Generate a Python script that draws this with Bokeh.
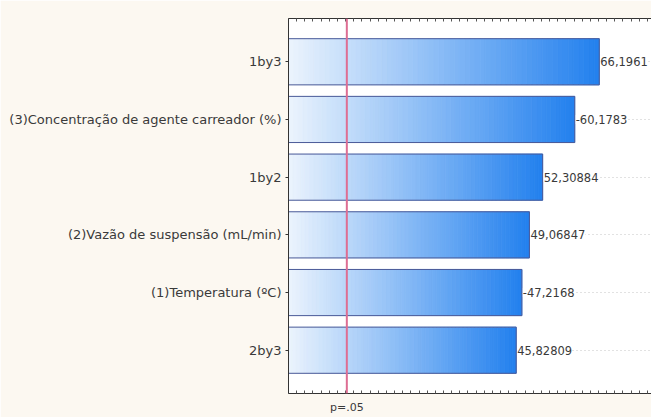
from bokeh.plotting import figure
from bokeh.models import (FixedTicker, LinearAxis, Span, ColumnDataSource, LabelSet, Range1d)
from bokeh.core.properties import value
from bokeh.embed import file_html
from bokeh.resources import INLINE

# Pareto chart of standardized effects
factors = ["1by3", "(3)Concentração de agente carreador (%)", "1by2",
           "(2)Vazão de suspensão (mL/min)", "(1)Temperatura (ºC)", "2by3"]
effects = [66.1961, -60.1783, 52.30884, 49.06847, -47.2168, 45.82809]
effect_labels = ["66,1961", "-60,1783", "52,30884", "49,06847", "-47,2168", "45,82809"]
p_crit = 4.3
p_label = "p=.05"

X0, X1 = -10, 79
n = len(factors)
ypos = list(range(n, 0, -1))

p = figure(width=651, height=417, output_backend="svg", toolbar_location=None,
           x_range=Range1d(X0, X1), y_range=Range1d(0.25, n + 0.75),
           min_border_left=288, min_border_right=0, min_border_top=18,
           min_border_bottom=24)
p.border_fill_color = "#fcf8f1"
p.background_fill_color = "white"
p.outline_line_color = None

TXT = "#3a3a3a"
FONT = "DejaVu Sans"

# gradient-filled bars: each bar split into thin slices blending light to saturated blue
c0 = (236, 244, 253)
c1 = (34, 128, 238)
nseg = 60
left, right, bottom, top, colors = [], [], [], [], []
for yv, e in zip(ypos, effects):
    length = abs(e) - X0
    for k in range(nseg):
        t = (k + 0.5) / nseg
        left.append(X0 + length * k / nseg)
        right.append(X0 + length * (k + 1) / nseg)
        bottom.append(yv - 0.4)
        top.append(yv + 0.4)
        col = tuple(int(round(a + (b - a) * t)) for a, b in zip(c0, c1))
        colors.append("#%02x%02x%02x" % col)
p.quad(left=left, right=right, bottom=bottom, top=top, fill_color=colors,
       line_color=colors, line_width=0.8)

# bar outlines
p.hbar(y=ypos, left=X0, right=[abs(e) for e in effects], height=0.8,
       fill_color=None, line_color="#4b5a98", line_width=1)

# critical value line
p.add_layout(Span(location=p_crit, dimension="height", line_color="#de6e93", line_width=2))

# value labels
src = ColumnDataSource(dict(x=[abs(e) for e in effects], y=ypos, t=effect_labels))
p.add_layout(LabelSet(x="x", y="y", text="t", source=src, x_offset=1,
                      text_baseline="middle", text_align="left",
                      text_font=value(FONT), text_font_size=value("11.5px"),
                      text_color=TXT, background_fill_color="white"))

# grid
p.xgrid.visible = False
p.ygrid.ticker = FixedTicker(ticks=ypos)
p.ygrid.grid_line_color = "#c4c4c4"
p.ygrid.grid_line_dash = "1 3"
p.ygrid.level = "underlay"

# category axis
p.yaxis.ticker = FixedTicker(ticks=ypos)
p.yaxis.major_label_overrides = {y: f for y, f in zip(ypos, factors)}
p.yaxis.major_label_text_font = FONT
p.yaxis.major_label_text_font_size = "13px"
p.yaxis.major_label_text_color = TXT
p.yaxis.major_label_standoff = 4
p.yaxis.axis_line_color = "#333333"
p.yaxis.major_tick_line_color = "#333333"
p.yaxis.major_tick_out = 3
p.yaxis.major_tick_in = 0
p.yaxis.minor_tick_line_color = None

# value axes: tick marks only, the critical value labelled underneath
ticks = list(range(-10, 80, 2))
p.xaxis.ticker = FixedTicker(ticks=[p_crit], minor_ticks=ticks)
p.xaxis.major_label_overrides = {p_crit: p_label}
p.xaxis.major_label_text_font = FONT
p.xaxis.major_label_text_font_size = "11px"
p.xaxis.major_label_text_color = TXT
p.xaxis.major_label_standoff = 7
p.xaxis.major_tick_in = 0
p.xaxis.major_tick_out = 0
p.xaxis.minor_tick_in = 3
p.xaxis.minor_tick_out = 0
p.xaxis.axis_line_color = "#333333"
p.xaxis.minor_tick_line_color = "#555555"

top_axis = LinearAxis(ticker=FixedTicker(ticks=[], minor_ticks=ticks),
                      major_label_standoff=0, major_tick_in=0, major_tick_out=0,
                      minor_tick_in=3, minor_tick_out=0,
                      axis_line_color="#333333", minor_tick_line_color="#555555")
p.add_layout(top_axis, "above")

open("out.html", "w").write(file_html(p, INLINE))
